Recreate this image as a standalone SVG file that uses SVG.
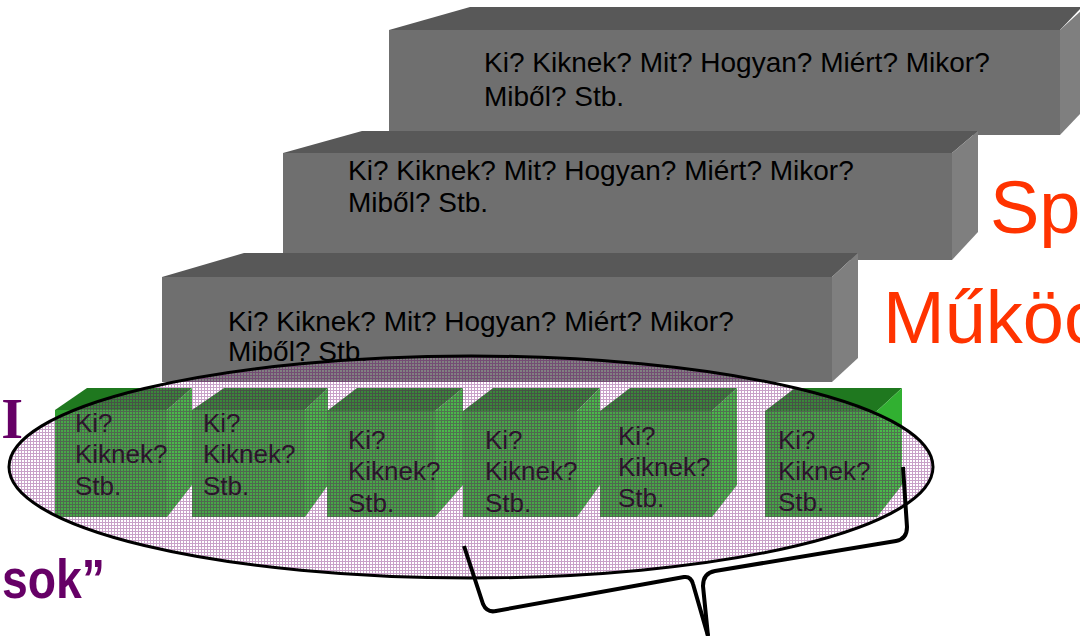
<svg xmlns="http://www.w3.org/2000/svg" width="1080" height="636" viewBox="0 0 1080 636">
<style>
.gf{fill:#6f6f6f}.gt{fill:#585858}.gs{fill:#7f7f7f}
.cf{fill:#2e9c2e}.ct{fill:#1f781f}.cs{fill:#31b031}
.bt{font-family:"Liberation Sans",Arial,sans-serif;font-size:28px;fill:#000}
.ct2{font-family:"Liberation Sans",Arial,sans-serif;font-size:26px;fill:#000}
.red{font-family:"Liberation Sans",Arial,sans-serif;font-size:74px;fill:#ff3300}
.pur{font-weight:bold;fill:#660066}
</style>
<defs>
<pattern id="chk" width="3" height="3" patternUnits="userSpaceOnUse">
<rect x="1" y="1" width="2" height="2" fill="#fff" fill-opacity="0.12"/>
<rect width="3" height="1" fill="#7b1f7b" fill-opacity="0.42"/>
<rect y="1" width="1" height="2" fill="#7b1f7b" fill-opacity="0.42"/>
</pattern>
</defs>
<rect width="1080" height="636" fill="#fff"/>
<g id="box-top">
<polygon class="gt" points="389,30 470,7 1082,7 1060,30"/>
<polygon class="gs" points="1060,30 1082,10 1082,112 1060,135"/>
<rect class="gf" x="389" y="30" width="671" height="105"/>
<text class="bt" x="484" y="72">Ki? Kiknek? Mit? Hogyan? Miért? Mikor?</text>
<text class="bt" x="484" y="106">Miből? Stb.</text>
</g>
<g id="box-mid">
<polygon class="gt" points="283,153 362,131 978,131 952,153"/>
<polygon class="gs" points="952,153 978,131 978,232 952,260"/>
<rect class="gf" x="283" y="153" width="669" height="107"/>
<text class="bt" x="348" y="180">Ki? Kiknek? Mit? Hogyan? Miért? Mikor?</text>
<text class="bt" x="348" y="212">Miből? Stb.</text>
</g>
<g id="box-bottom">
<polygon class="gt" points="162,277 244,253 858,253 832,277"/>
<polygon class="gs" points="832,277 858,253 858,358 832,382"/>
<rect class="gf" x="162" y="277" width="670" height="105"/>
<text class="bt" x="228" y="331">Ki? Kiknek? Mit? Hogyan? Miért? Mikor?</text>
<text class="bt" x="228" y="361">Miből? Stb.</text>
</g>
<g id="cube-1">
<polygon class="ct" points="55,410 87,388 192,388 167,410"/>
<polygon class="cs" points="167,410 192,388 192,485 167,517"/>
<rect class="cf" x="55" y="410" width="112" height="107"/>
<text class="ct2" x="75" y="432">Ki?</text><text class="ct2" x="75" y="463">Kiknek?</text><text class="ct2" x="75" y="495">Stb.</text>
</g>
<g id="cube-2">
<polygon class="ct" points="192,410 224,388 328,388 305,410"/>
<polygon class="cs" points="305,410 328,388 328,485 305,517"/>
<rect class="cf" x="192" y="410" width="113" height="107"/>
<text class="ct2" x="203" y="432">Ki?</text><text class="ct2" x="203" y="463">Kiknek?</text><text class="ct2" x="203" y="495">Stb.</text>
</g>
<g id="cube-3">
<polygon class="ct" points="327,411 357,388 463,388 435,411"/>
<polygon class="cs" points="435,411 463,388 463,485 435,517"/>
<rect class="cf" x="327" y="411" width="108" height="106"/>
<text class="ct2" x="348" y="449">Ki?</text><text class="ct2" x="348" y="480">Kiknek?</text><text class="ct2" x="348" y="512">Stb.</text>
</g>
<g id="cube-4">
<polygon class="ct" points="463,411 493,388 600,388 577,411"/>
<polygon class="cs" points="577,411 600,388 600,485 577,517"/>
<rect class="cf" x="463" y="411" width="114" height="106"/>
<text class="ct2" x="485" y="449">Ki?</text><text class="ct2" x="485" y="480">Kiknek?</text><text class="ct2" x="485" y="512">Stb.</text>
</g>
<g id="cube-5">
<polygon class="ct" points="600,411 630,388 737,388 712,411"/>
<polygon class="cs" points="712,411 737,388 737,485 712,517"/>
<rect class="cf" x="600" y="411" width="112" height="106"/>
<text class="ct2" x="618" y="445">Ki?</text><text class="ct2" x="618" y="476">Kiknek?</text><text class="ct2" x="618" y="507">Stb.</text>
</g>
<g id="cube-6">
<polygon class="ct" points="765,411 795,388 902,388 877,411"/>
<polygon class="cs" points="877,411 902,388 902,485 877,517"/>
<rect class="cf" x="765" y="411" width="112" height="106"/>
<text class="ct2" x="778" y="449">Ki?</text><text class="ct2" x="778" y="480">Kiknek?</text><text class="ct2" x="778" y="511">Stb.</text>
</g>
<g id="group-ellipse">
<ellipse cx="471" cy="467" rx="462" ry="111" fill="url(#chk)" stroke="#000" stroke-width="3"/>
</g>
<g id="connectors" fill="none" stroke="#000" stroke-width="4" stroke-linejoin="round" stroke-linecap="butt">
<path d="M464,546 L483,604 Q487,613 496,611 L684,577 Q691,576 693,584 L708,636"/>
<path d="M708,636 L703,586 Q703,573 715,571 L896,541 Q907,539 907,527 L903,467"/>
</g>
<g id="labels">
<text class="red" x="990" y="233">Sp</text>
<text class="red" x="883" y="343">Műköc</text>
<text class="pur" x="23" y="438" text-anchor="end" font-family="Liberation Serif, serif" font-size="56">I</text>
<text class="pur" x="105" y="598" text-anchor="end" font-family="Liberation Sans, Arial, sans-serif" font-size="56" textLength="103" lengthAdjust="spacingAndGlyphs">sok”</text>
</g>
</svg>
